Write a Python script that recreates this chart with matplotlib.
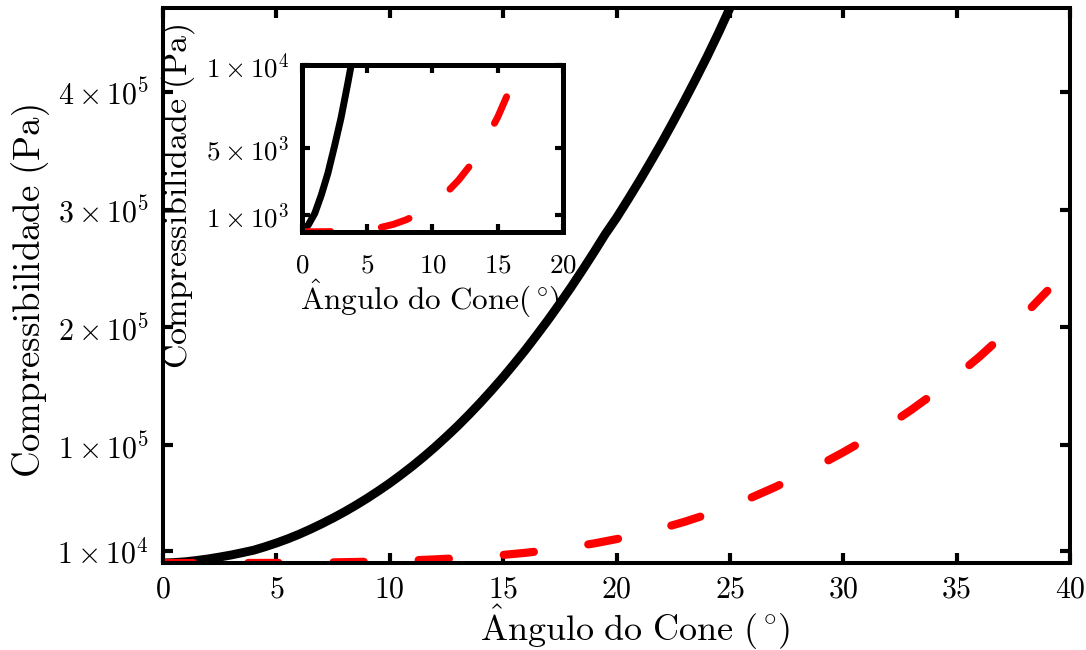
import matplotlib
matplotlib.use('Agg')
from matplotlib import pyplot as plt

# dados: angulo do cone (graus) e compressibilidade (Pa)
angulo_preto = [0, 0.5, 1, 1.5, 2, 2.5, 3, 3.5, 4, 4.5, 5, 5.5, 6, 6.5, 7,
                7.5, 8, 8.5, 9, 9.5, 10, 10.5, 11, 11.5, 12, 12.5, 13, 13.5,
                14, 14.5, 15, 15.5, 16, 16.5, 17, 17.5, 18, 18.5, 19, 19.5,
                20, 20.5, 21, 21.5, 22, 22.5, 23, 23.5, 24, 24.5, 25]
comp_preto = [0, 400, 1100, 2200, 3500, 5100, 6800, 8800, 10900, 13800,
              17000, 20500, 24400, 28700, 33300, 38200, 43400, 49000, 54900,
              61200, 67800, 74900, 82300, 90200, 98500, 107300, 116400,
              126100, 136200, 146800, 157800, 169400, 181300, 193900, 206800,
              220300, 234200, 248700, 263600, 279000, 293000, 308300, 324000,
              340300, 357000, 374500, 392500, 411000, 430000, 450000, 471000]

angulo_vermelho = [0, 1, 2, 3, 4, 5, 6, 7, 8, 9, 10, 11, 12, 13, 14, 15, 16,
                   17, 18, 19, 20, 21, 22, 23, 24, 25, 26, 27, 28, 29, 30, 31,
                   32, 33, 34, 35, 36, 37, 38, 39]
comp_vermelho = [0, 0, 5, 20, 60, 130, 250, 440, 720, 1100, 1620, 2280, 3100,
                 4100, 5400, 6900, 8700, 10900, 13500, 16600, 20300, 24600,
                 29500, 35000, 41300, 48300, 56000, 64500, 73800, 83600, 94000,
                 105000, 117000, 130000, 144000, 159000, 175000, 192500,
                 211000, 231000]

xticks_main = [0, 5, 10, 15, 20, 25, 30, 35, 40]
yticks_main = [1e4, 1e5, 2e5, 3e5, 4e5]
ylabels_main = [r'$1\times10^4$', r'$1\times10^5$', r'$2\times10^5$',
                r'$3\times10^5$', r'$4\times10^5$']
xticks_inset = [0, 5, 10, 15, 20]
yticks_inset = [1e3, 5e3, 1e4]
ylabels_inset = [r'$1\times10^3$', r'$5\times10^3$', r'$1\times10^4$']

plt.rcParams['mathtext.fontset'] = 'cm'
plt.rcParams['font.family'] = 'serif'

xlabel_txt = r'$\mathrm{\hat{A}ngulo\ do\ Cone\ (^\circ\!)}$'
xlabel_inset = r'$\mathrm{\hat{A}ngulo\ do\ Cone(^\circ\!)}$'
ylabel_txt = r'$\mathrm{Compressibilidade\ (Pa)}$'

fig = plt.figure(figsize=(10.86, 6.5), dpi=100)

# grafico principal
ax = fig.add_axes([0.1501, 0.1338, 0.8352, 0.8538])
ax.plot(angulo_preto, comp_preto, color='black', lw=6.4,
        solid_capstyle='round')
ax.plot(angulo_vermelho, comp_vermelho, color='red', lw=5.9,
        dashes=(3.7, 6.7), dash_capstyle='round')
ax.set_xlim(0, 40)
ax.set_ylim(0, 471000)
ax.set_xticks(xticks_main, ['$%d$' % v for v in xticks_main])
ax.set_yticks(yticks_main, ylabels_main)
ax.tick_params(direction='in', length=7, width=3, top=True, right=True,
               labelsize=21.5)
ax.tick_params(axis='x', pad=9)
ax.tick_params(axis='y', pad=10)
for s in ax.spines.values():
    s.set_linewidth(2.9)
ax.set_xlabel(xlabel_txt, fontsize=26)
ax.set_ylabel(ylabel_txt, fontsize=26.5)
ax.xaxis.set_label_coords(0.52, -0.072)
ax.yaxis.set_label_coords(-0.122, 0.49)

# grafico interno
axi = fig.add_axes([0.2778, 0.6435, 0.2409, 0.2565])
axi.plot(angulo_preto[:11], comp_preto[:11], color='black', lw=5.0,
         solid_capstyle='round')
axi.plot(angulo_vermelho[:17], comp_vermelho[:17], color='red', lw=5.0,
         dashes=(4.2, 7.3), dash_capstyle='round')
axi.set_xlim(0, 20)
axi.set_ylim(0, 10000)
axi.set_xticks(xticks_inset, ['$%d$' % v for v in xticks_inset])
axi.set_yticks(yticks_inset, ylabels_inset)
axi.tick_params(direction='in', length=6, width=3, top=True, right=True,
                labelsize=19.5)
axi.tick_params(axis='x', pad=14)
axi.tick_params(axis='y', pad=9)
for s in axi.spines.values():
    s.set_linewidth(3.6)
axi.set_xlabel(xlabel_inset, fontsize=22.5)
axi.set_ylabel(ylabel_txt, fontsize=24.5)
axi.yaxis.set_label_coords(-0.40, 0.215)
axi.xaxis.set_label_coords(0.49, -0.275)

fig.savefig('out.png', dpi=100)
